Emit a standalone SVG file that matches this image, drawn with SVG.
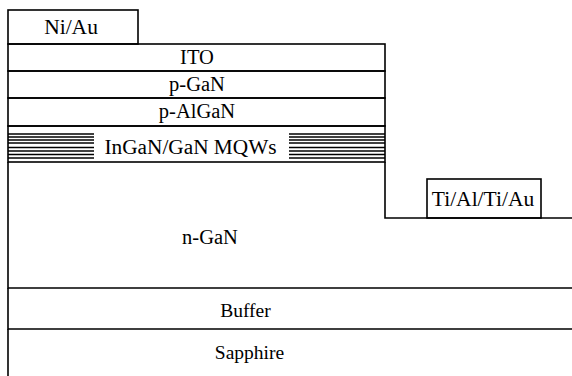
<svg xmlns="http://www.w3.org/2000/svg" width="572" height="376" viewBox="0 0 572 376">
<style>
.l{stroke:#000;stroke-width:1.6;fill:none}
.q{stroke:#000;stroke-width:1.4}
text{font-family:'Liberation Serif','DejaVu Serif',serif;font-size:20.5px;fill:#000;text-anchor:middle}
</style>
<rect width="572" height="376" fill="#fff"/>
<g id="ni-au"><rect class="l" x="8" y="10" width="130" height="34"/><text x="71" y="34" style="font-size:21.5px">Ni/Au</text></g>
<g id="ito"><rect class="l" x="8" y="44" width="377" height="27"/><text x="197" y="64">ITO</text></g>
<g id="p-gan"><rect class="l" x="8" y="71" width="377" height="27"/><text x="197" y="91">p-GaN</text></g>
<g id="p-algan"><rect class="l" x="8" y="98" width="377" height="28"/><text x="197" y="118">p-AlGaN</text></g>
<g id="mqw">
<rect class="l" x="8" y="126" width="377" height="36"/>
<g class="q">
<line x1="8" y1="134" x2="94" y2="134"/><line x1="289" y1="134" x2="385" y2="134"/>
<line x1="8" y1="137" x2="94" y2="137"/><line x1="289" y1="137" x2="385" y2="137"/>
<line x1="8" y1="140" x2="94" y2="140"/><line x1="289" y1="140" x2="385" y2="140"/>
<line x1="8" y1="143" x2="94" y2="143"/><line x1="289" y1="143" x2="385" y2="143"/>
<line x1="8" y1="147.5" x2="94" y2="147.5"/><line x1="289" y1="147.5" x2="385" y2="147.5"/>
<line x1="8" y1="151" x2="94" y2="151"/><line x1="289" y1="151" x2="385" y2="151"/>
<line x1="8" y1="154.5" x2="94" y2="154.5"/><line x1="289" y1="154.5" x2="385" y2="154.5"/>
<line x1="8" y1="158" x2="94" y2="158"/><line x1="289" y1="158" x2="385" y2="158"/>
</g>
<text x="190.5" y="154" style="font-size:21.3px">InGaN/GaN MQWs</text>
</g>
<g id="n-gan"><path class="l" d="M8 162 V288 H572 M385 162 V218 H572"/><text x="210" y="244">n-GaN</text></g>
<g id="ti-al-ti-au"><rect class="l" x="427" y="179" width="114" height="39"/><text x="483" y="206" style="font-size:21.5px">Ti/Al/Ti/Au</text></g>
<g id="buffer"><path class="l" d="M8 288 V329 H572"/><text x="245.5" y="317" style="font-size:19.5px">Buffer</text></g>
<g id="sapphire"><path class="l" d="M8 329 V376"/><text x="249.5" y="359" style="font-size:19.5px">Sapphire</text></g>
</svg>
